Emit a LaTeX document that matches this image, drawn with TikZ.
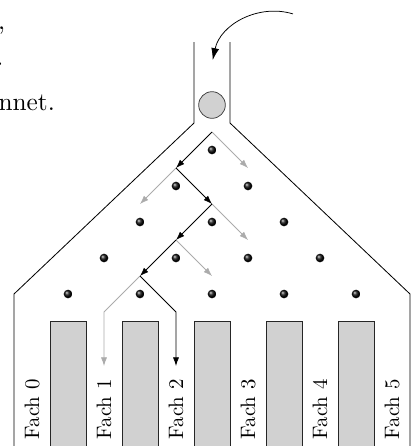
\documentclass[tikz,border=0pt]{standalone}
\usetikzlibrary{arrows.meta,shadings}
\begin{document}
\begin{tikzpicture}[
  wall/.style={line width=0.65pt,black},
  bin/.style={draw=black!85,line width=0.6pt,fill=black!18},
  pin/.style={circle,inner sep=0pt,minimum size=0.24cm,shading=ball,ball color=black!95},
  taken/.style={line width=0.6pt,black,-{Latex[length=2.4mm,width=1.7mm]}},
  other/.style={line width=0.6pt,black!33,-{Latex[length=2.4mm,width=1.7mm]}},
  lbl/.style={rotate=90,inner sep=0pt},
  frag/.style={anchor=base east,inner sep=0pt}
]
\useasboundingbox (-5.889,-8.222) rectangle (5.5,4.1667);
% text fragments at the left edge
\node[frag] (f1) at (-5.74,3.36) {\scalebox{2.0}{,}};
\node[frag] (f2) at (-5.79,2.36) {\scalebox{2.0}{.}};
\node[frag] (f3) at (-4.36,1.11) {\scalebox{2.0}{nnet.}};
% bins
\foreach \x in {-4,-2,0,2,4}
  \draw[bin] (\x-0.5,-8.6) rectangle (\x+0.5,-4.75);
% walls and tube
\coordinate (tl) at (-0.5,3);
\coordinate (tr) at (0.5,3);
\coordinate (jl) at (-0.5,0.75);
\coordinate (jr) at (0.5,0.75);
\coordinate (cl) at (-5.5,-4);
\coordinate (cr) at (5.5,-4);
\coordinate (bl) at (-5.5,-8.6);
\coordinate (br) at (5.5,-8.6);
\draw[wall] (tl) -- (jl) -- (cl) -- (bl);
\draw[wall] (tr) -- (jr) -- (cr) -- (br);
% ball
\node[circle,draw=black!75,line width=0.6pt,fill=black!18,minimum size=0.74cm,inner sep=0pt] (ball) at (0,1.25) {};
% incoming arrow
\coordinate (s) at (2.25,3.78);
\coordinate (e) at (0.02,2.5);
\draw[line width=0.6pt,-{Latex[length=3.3mm,width=2.2mm]}] (s) to[out=163,in=78] (e);
% pins
\foreach \k in {0,...,4}
  \foreach \j in {0,...,\k}
    \node[pin] (p\k\j) at ({-\k+2*\j},{-\k}) {};
% path points
\coordinate (a0) at (0,0.5);
\coordinate (a1) at (-1,-0.5);
\coordinate (a2) at (0,-1.5);
\coordinate (a3) at (-1,-2.5);
\coordinate (a4) at (-2,-3.5);
\coordinate (a5) at (-1,-4.5);
\coordinate (a6) at (-1,-6);
\coordinate (g1) at (1,-0.5);
\coordinate (g2) at (-2,-1.5);
\coordinate (g3) at (1,-2.5);
\coordinate (g4) at (0,-3.5);
\coordinate (g5) at (-3,-4.5);
\coordinate (g6) at (-3,-6);
\draw[other] (a0) -- (g1);
\draw[other] (a1) -- (g2);
\draw[other] (a2) -- (g3);
\draw[other] (a3) -- (g4);
\draw[other] (a4) -- (g5) -- (g6);
\draw[taken] (a0) -- (a1);
\draw[taken] (a1) -- (a2);
\draw[taken] (a2) -- (a3);
\draw[taken] (a3) -- (a4);
\draw[taken] (a4) -- (a5) -- (a6);
% labels
\foreach \i in {0,...,5}
  \node[lbl] (l\i) at ({-5+2*\i},-7.2) {\scalebox{1.65}{Fach \i}};
\end{tikzpicture}
\end{document}
